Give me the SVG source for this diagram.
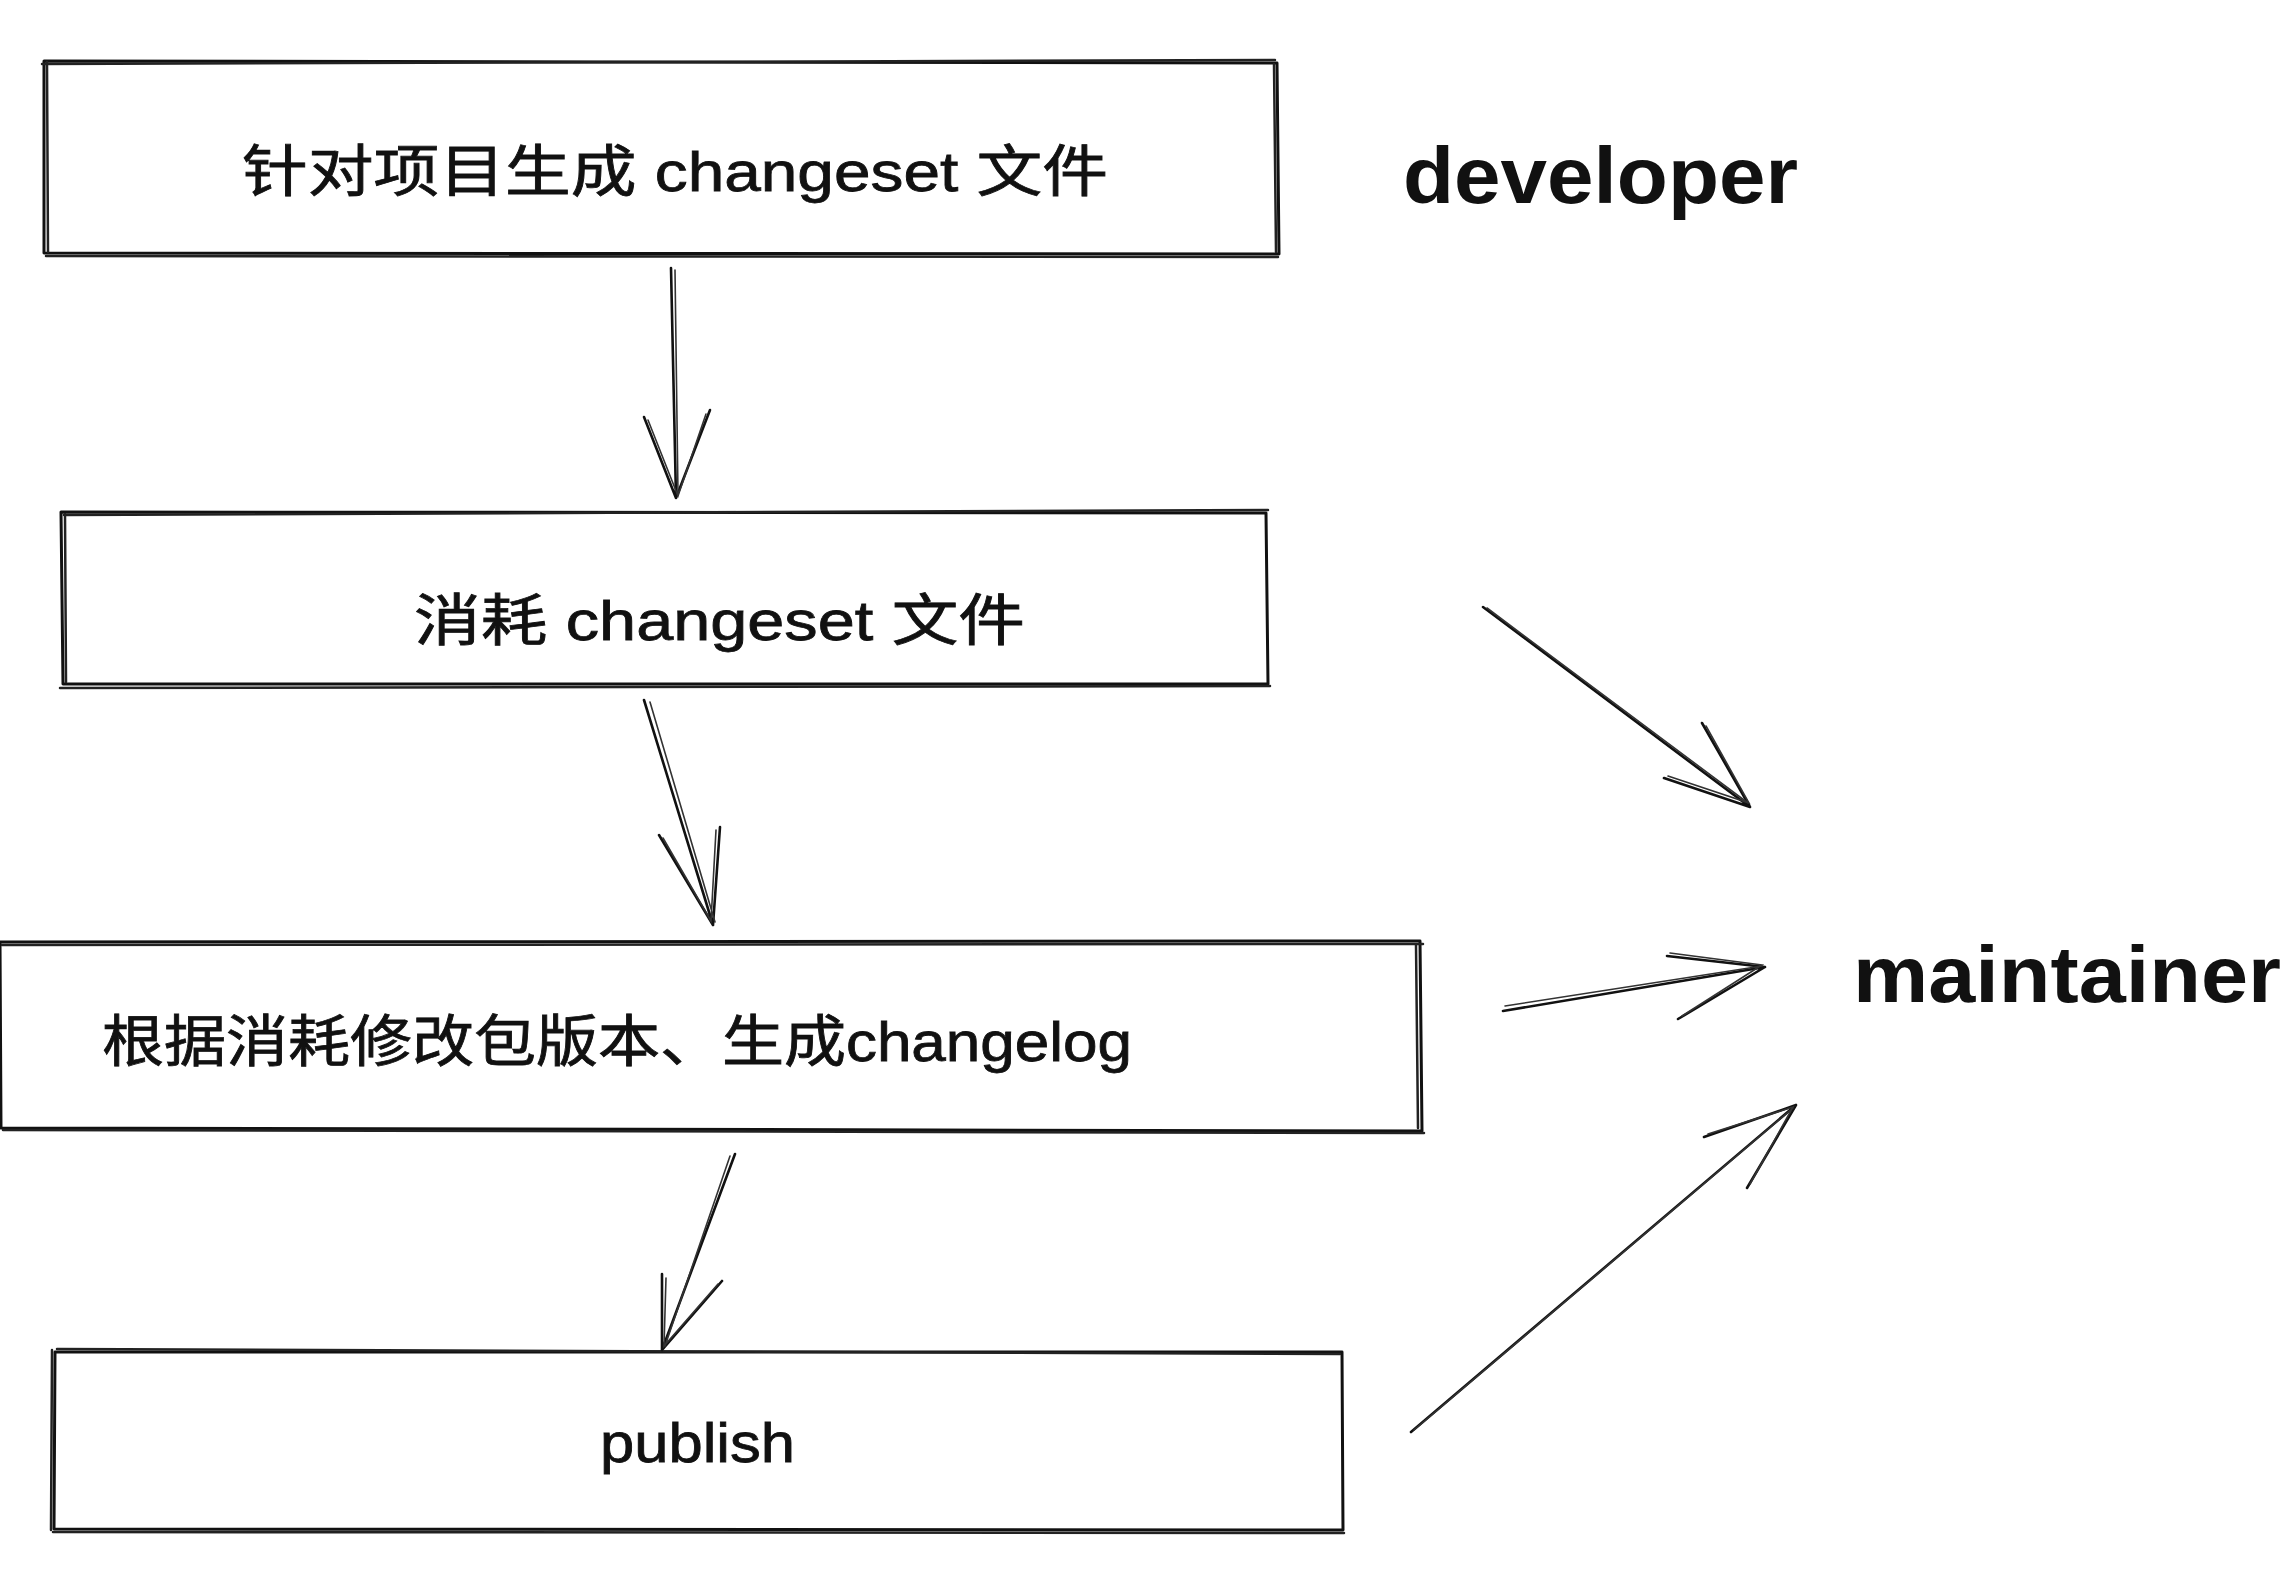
<svg xmlns="http://www.w3.org/2000/svg" width="2296" height="1572" viewBox="0 0 2296 1572">
<style>
.bx{fill:none;stroke:#111;stroke-width:3;stroke-linejoin:round;stroke-linecap:round}
.bx2{fill:none;stroke:#222;stroke-width:2.5;stroke-linecap:round}
.ar{fill:none;stroke:#111;stroke-width:2.6;stroke-linecap:round;stroke-linejoin:round}
.ar2{fill:none;stroke:#333;stroke-width:1.6;stroke-linecap:round}
.t{font-family:"Liberation Sans","Noto Sans CJK SC",sans-serif;fill:#111}
.lbl{font-size:56px;stroke:#111;stroke-width:0.8}
.role{font-size:80px;font-weight:bold}
</style>
<rect width="2296" height="1572" fill="#fff"/>
<g id="node-1">
<path class="bx" d="M44,61 L1277,63 L1279,254 L44,253 Z"/>
<path class="bx2" d="M42,64 L1275,60 M46,256 L1278,257 M47,62 L48,252 M1274,64 L1276,252"/>
<text class="t lbl" x="242" y="191" textLength="866" lengthAdjust="spacingAndGlyphs">针对项目生成 changeset 文件</text>
</g>
<g id="developer">
<text class="t role" x="1403" y="203" textLength="395" lengthAdjust="spacingAndGlyphs">developer</text>
</g>
<g id="node-2">
<path class="bx" d="M61,512 L1266,513 L1268,684 L63,684 Z"/>
<path class="bx2" d="M64,515 L1268,510 M60,688 L1270,686 M65,514 L66,682"/>
<text class="t lbl" x="414" y="640" textLength="611" lengthAdjust="spacingAndGlyphs">消耗 changeset 文件</text>
</g>
<g id="node-3">
<path class="bx" d="M0,942 L1420,941 L1422,1131 L1,1128 Z"/>
<path class="bx2" d="M2,945 L1423,944 M3,1130 L1424,1133 M1416,945 L1418,1128"/>
<text class="t lbl" x="102" y="1061" textLength="1030" lengthAdjust="spacingAndGlyphs">根据消耗修改包版本、生成changelog</text>
</g>
<g id="node-4">
<path class="bx" d="M55,1352 L1342,1352 L1343,1530 L54,1529 Z"/>
<path class="bx2" d="M57,1349 L1340,1354 M53,1532 L1344,1533 M52,1350 L51,1530"/>
<text class="t lbl" font-size="62" x="600" y="1462" textLength="195" lengthAdjust="spacingAndGlyphs">publish</text>
</g>
<g id="maintainer">
<text class="t role" x="1853" y="1002" textLength="428" lengthAdjust="spacingAndGlyphs">maintainer</text>
</g>
<g id="connectors">
<path class="ar" d="M671,268 L676,498 M644,417 L676,498 L710,410"/>
<path class="ar2" d="M675,270 L678,495 M648,420 L678,496 L706,414"/>
<path class="ar" d="M644,700 L713,925 M659,835 L713,925 L720,827"/>
<path class="ar2" d="M650,702 L715,922 M663,838 L711,921 L716,830"/>
<path class="ar" d="M735,1154 L662,1350 M662,1274 L662,1350 L722,1281"/>
<path class="ar2" d="M730,1156 L665,1346 M666,1278 L664,1346 L718,1284"/>
<path class="ar" d="M1483,607 L1750,807 M1702,723 L1750,807 L1664,778"/>
<path class="ar2" d="M1487,608 L1748,803 M1706,726 L1749,803 L1668,776"/>
<path class="ar" d="M1503,1011 L1765,967 M1667,956 L1765,967 L1678,1019"/>
<path class="ar2" d="M1505,1006 L1762,966 M1670,953 L1762,965 L1682,1016"/>
<path class="ar" d="M1411,1432 L1796,1105 M1704,1137 L1796,1105 L1747,1188"/>
<path class="ar2" d="M1414,1430 L1793,1108 M1708,1134 L1793,1107 L1750,1184"/>
</g>
</svg>
